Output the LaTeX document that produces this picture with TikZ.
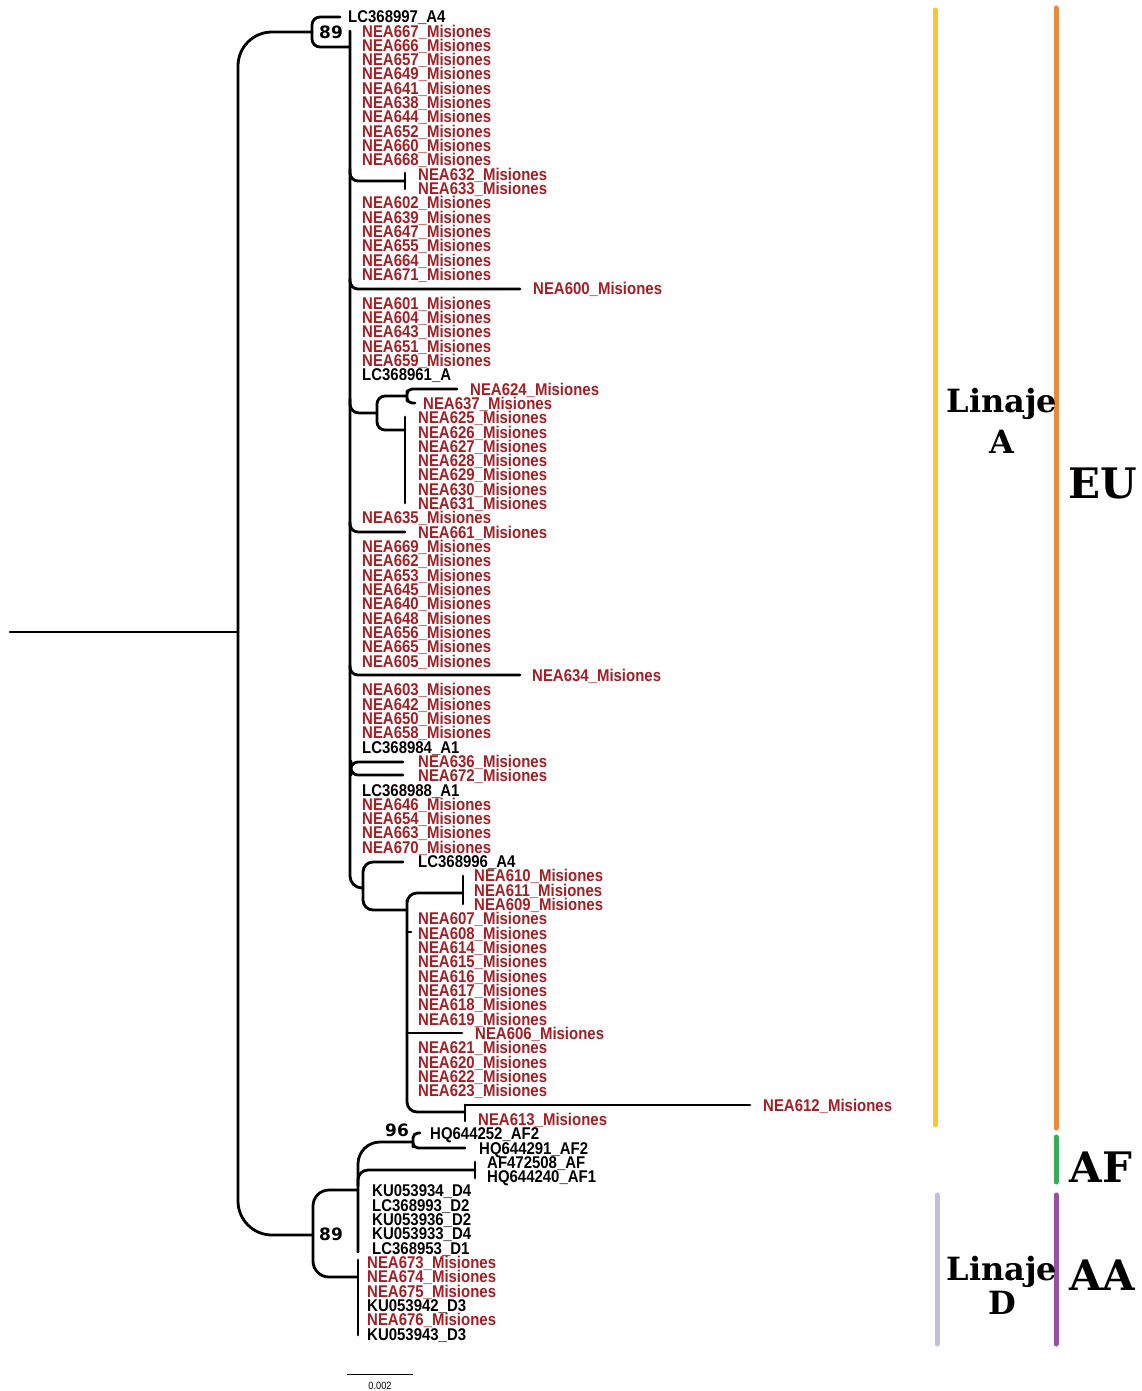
\documentclass[tikz,border=0pt]{standalone}
\usepackage{fontspec}
\newfontfamily\tipfont[FakeStretch=0.88]{Liberation Sans}
\newfontfamily\cladefont{DejaVu Serif}
\newfontfamily\bootfont{DejaVu Sans}
\definecolor{tipred}{RGB}{165,30,35}
\definecolor{barY}{RGB}{245,200,45}
\definecolor{barO}{RGB}{237,137,58}
\definecolor{barG}{RGB}{60,168,90}
\definecolor{barP}{RGB}{150,82,160}
\definecolor{barL}{RGB}{192,192,222}
\begin{document}
\begin{tikzpicture}[x=1pt,y=-1pt,
  br/.style={line width=2.8pt, line cap=round, line join=round, rounded corners=#1}, br/.default=0.1pt,
  tipR/.style={anchor=base west, inner sep=0pt, text=tipred, font=\tipfont\bfseries\fontsize{17}{17}\selectfont},
  tipK/.style={anchor=base west, inner sep=0pt, text=black, font=\tipfont\bfseries\fontsize{17}{17}\selectfont},
  boot/.style={inner sep=0pt, font=\bootfont\bfseries\fontsize{17}{17}\selectfont},
  clade/.style={anchor=base, inner sep=0pt, font=\cladefont\bfseries\fontsize{#1}{#1}\selectfont},
  colbar/.style={line width=5pt, line cap=round, draw=#1}]
\useasboundingbox (0,0) rectangle (1142,1391);

% ---------- tip labels ----------
\foreach \r/\n in {2/667,3/666,4/657,5/649,6/641,7/638,8/644,9/652,10/660,11/668,
  14/602,15/639,16/647,17/655,18/664,19/671,21/601,22/604,23/643,24/651,25/659,36/635,
  38/669,39/662,40/653,41/645,42/640,43/648,44/656,45/665,46/605,
  48/603,49/642,50/650,51/658,56/646,57/654,58/663,59/670}
  \node[tipR] (t\r) at (362,{8.4+\r*14.32}) {NEA\n\_Misiones};
\foreach \r/\n in {12/632,13/633,29/625,30/626,31/627,32/628,33/629,34/630,35/631,37/661,
  53/636,54/672,64/607,65/608,66/614,67/615,68/616,69/617,70/618,71/619,
  73/621,74/620,75/622,76/623}
  \node[tipR] (t\r) at (418,{8.4+\r*14.32}) {NEA\n\_Misiones};
\foreach \r/\n in {61/610,62/611,63/609}
  \node[tipR] (t\r) at (474,{8.4+\r*14.32}) {NEA\n\_Misiones};
\foreach \r/\n in {88/673,89/674,90/675,92/676}
  \node[tipR] (t\r) at (367,{8.4+\r*14.32}) {NEA\n\_Misiones};
\foreach \r/\x/\n in {20/533/600,27/470/624,28/423/637,47/532/634,72/475/606,77/763/612,78/478/613}
  \node[tipR] (t\r) at (\x,{8.4+\r*14.32}) {NEA\n\_Misiones};
\foreach \r/\x/\n in {1/348/LC368997\_A4,26/362/LC368961\_A,52/362/LC368984\_A1,55/362/LC368988\_A1,
  60/418/LC368996\_A4,79/430/HQ644252\_AF2,80/479/HQ644291\_AF2,81/487/AF472508\_AF,82/487/HQ644240\_AF1,
  83/372/KU053934\_D4,84/372/LC368993\_D2,85/372/KU053936\_D2,86/372/KU053933\_D4,87/372/LC368953\_D1,
  91/367/KU053942\_D3,93/367/KU053943\_D3}
  \node[tipK] (t\r) at (\x,{8.4+\r*14.32}) {\n};

% ---------- tree coordinates ----------
\coordinate (r0) at (10,632);
\coordinate (r1) at (238,632);
\coordinate (nA) at (312,32);
\coordinate (nB) at (313,1235);
\coordinate (a1) at (340,17);
\coordinate (a2) at (350,47);
\coordinate (mtop) at (350,31);
\coordinate (nC) at (363,888);
\coordinate (s632) at (350,169);
\coordinate (k632) at (405,181);
\coordinate (k632a) at (405,173);
\coordinate (k632b) at (405,189);
\coordinate (s600) at (350,279);
\coordinate (k600) at (520,289);
\coordinate (s624) at (350,399);
\coordinate (n624) at (377,413);
\coordinate (k624) at (407,396);
\coordinate (l624) at (457,389);
\coordinate (l637) at (415,403);
\coordinate (k625) at (405,430);
\coordinate (k625a) at (405,417);
\coordinate (k625b) at (405,503);
\coordinate (s661) at (350,522);
\coordinate (k661) at (405,532);
\coordinate (s634) at (350,665);
\coordinate (k634) at (520,675);
\coordinate (n636) at (351,768);
\coordinate (l636) at (403,762);
\coordinate (l672) at (403,775);
\coordinate (l996) at (403,862);
\coordinate (nD) at (407,910);
\coordinate (k610) at (463,893);
\coordinate (k610a) at (463,876);
\coordinate (k610b) at (463,904);
\coordinate (tk) at (411,932);
\coordinate (k606) at (462,1033);
\coordinate (n612) at (465,1112);
\coordinate (k612a) at (465,1105);
\coordinate (k612b) at (465,1121);
\coordinate (l612) at (750,1105);
\coordinate (nE) at (357,1190);
\coordinate (nF) at (357,1277);
\coordinate (n96) at (413,1142);
\coordinate (eBot) at (358,1252);
\coordinate (l252) at (420,1133);
\coordinate (l291) at (465,1148);
\coordinate (eAF) at (358,1186);
\coordinate (kAF) at (475,1170);
\coordinate (kAFa) at (475,1162);
\coordinate (kAFb) at (475,1178);
\coordinate (fTop) at (358,1260);
\coordinate (fBot) at (358,1335);

% ---------- tree ----------
\draw[br] (r0) -- (r1);
\draw[br=34pt] (nA) -| (r1) |- (nB);
\draw[br=8pt] (a1) -| (nA) |- (a2);
\draw[br=12pt] (mtop) |- (nC);
\draw[br=8pt] (s632) |- (k632);
\draw[br] (k632a) -- (k632b);
\draw[br=8pt] (s600) |- (k600);
\draw[br=9pt] (s624) |- (n624);
\draw[br=8pt] (k624) -| (n624) |- (k625);
\draw[br] (k625a) -- (k625b);
\draw[br=5pt] (l624) -| (k624) |- (l637);
\draw[br=8pt] (s661) |- (k661);
\draw[br=8pt] (s634) |- (k634);
\draw[br=7pt] (l636) -| (n636) |- (l672);
\draw[br=10pt] (l996) -| (nC) |- (nD);
\draw[br=10pt] (k610) -| (nD) |- (n612);
\draw[br] (k610a) -- (k610b);
\draw[br] (nD |- tk) -- (tk);
\draw[br] (nD |- k606) -- (k606);
\draw[br] (k612a) -- (k612b);
\draw[br] (k612a) -- (l612);
\draw[br=16pt] (nE) -| (nB) |- (nF);
\draw[br=22pt] (n96) -| (eBot);
\draw[br=5pt] (l252) -| (n96) |- (l291);
\draw[br=10pt] (eAF) |- (kAF);
\draw[br] (kAFa) -- (kAFb);
\draw[br] (fTop) -- (fBot);

% ---------- bootstrap values ----------
\node[boot] (b89a) at (331,32) {89};
\node[boot] (b96) at (397,1130) {96};
\node[boot] (b89b) at (331,1234) {89};

% ---------- scale bar ----------
\coordinate (sb1) at (347,1374);
\coordinate (sb2) at (413,1374);
\draw[line width=1pt] (sb1) -- (sb2);
\node[inner sep=0pt, anchor=base, font=\tipfont\fontsize{10.5}{10.5}\selectfont] (sbt) at (380,1389) {0.002};

% ---------- coloured bars ----------
\coordinate (yA1) at (935,10);
\coordinate (yA2) at (935,1125);
\coordinate (oE1) at (1056,8);
\coordinate (oE2) at (1056,1128);
\coordinate (gF1) at (1056,1137);
\coordinate (gF2) at (1056,1182);
\coordinate (pA1) at (1056,1195);
\coordinate (pA2) at (1056,1344);
\coordinate (lD1) at (937,1195);
\coordinate (lD2) at (937,1344);
\draw[colbar=barY] (yA1) -- (yA2);
\draw[colbar=barO] (oE1) -- (oE2);
\draw[colbar=barG] (gF1) -- (gF2);
\draw[colbar=barP] (pA1) -- (pA2);
\draw[colbar=barL] (lD1) -- (lD2);

% ---------- clade labels ----------
\node[clade=32] (linA) at (1002,412) {Linaje};
\node[clade=32] (linAb) at (1002,453) {A};
\node[clade=42] (eu) at (1103,498) {EU};
\node[clade=42] (af) at (1101,1182) {AF};
\node[clade=42] (aa) at (1102,1290) {AA};
\node[clade=32] (linD) at (1002,1280) {Linaje};
\node[clade=32] (linDb) at (1002,1314) {D};
\end{tikzpicture}
\end{document}
